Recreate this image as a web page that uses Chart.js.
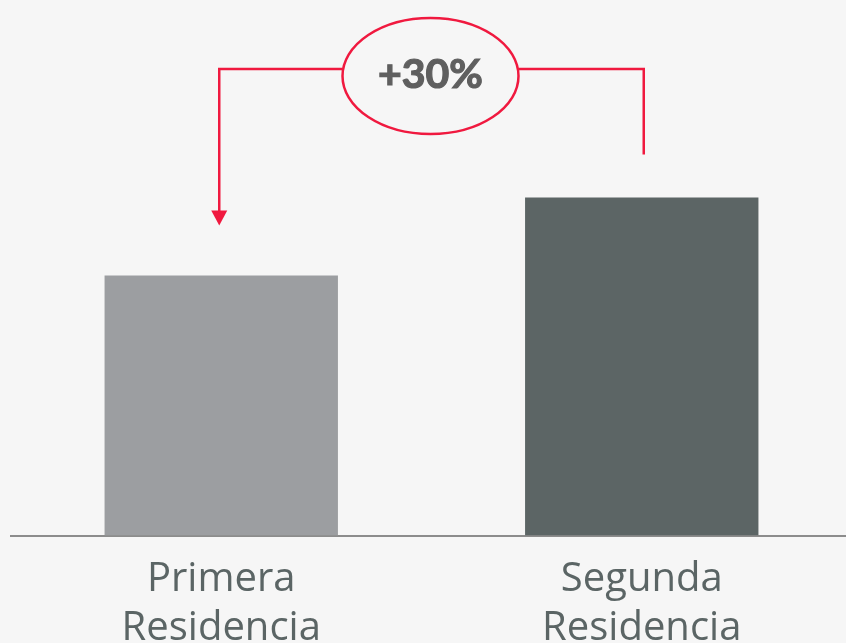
<!DOCTYPE html>
<html>
<head>
<meta charset="utf-8">
<script src="https://cdn.jsdelivr.net/npm/chart.js@4.4.0/dist/chart.umd.min.js"></script>
<style>
    html, body { margin: 0; padding: 0; background: #f6f6f6; overflow: hidden; }
    #wrap { position: absolute; left: 0; top: 0; width: 852px; height: 664px; }
</style>
</head>
<body>
<div id="wrap"><canvas id="chart"></canvas></div>
<script>
let categories = [["Primera", "Residencia"], ["Segunda", "Residencia"]];
let values = [100, 130];
let barColors = ["#9c9ea1", "#5c6565"];
let changeLabel = "+30%";

// red connector with the ellipse showing the change between the two bars
let changePlugin = {
    id: "change",
    beforeDraw: function(chart) {
        let ctx = chart.ctx;
        ctx.save();
        ctx.fillStyle = "#f6f6f6";
        ctx.fillRect(0, 0, chart.width, chart.height);
        ctx.restore();
    },
    afterDraw: function(chart) {
        let ctx = chart.ctx;
        let bars = chart.getDatasetMeta(0).data;
        let b0 = bars[0], b1 = bars[1];
        let topY = 69;
        let x0 = b0.x - 2;
        let x1 = b1.x + 2;
        let cx = (b0.x + b1.x) / 2 - 1;
        let cy = 76;
        let rx = 88, ry = 58;

        ctx.save();
        ctx.strokeStyle = "#f0193f";
        ctx.fillStyle = "#f0193f";
        ctx.lineWidth = 2.5;

        ctx.beginPath();
        ctx.moveTo(x0, b0.y - 62);
        ctx.lineTo(x0, topY);
        ctx.lineTo(cx - rx, topY);
        ctx.stroke();

        ctx.beginPath();
        ctx.moveTo(cx + rx, topY);
        ctx.lineTo(x1, topY);
        ctx.lineTo(x1, b1.y - 43);
        ctx.stroke();

        // arrow head
        ctx.beginPath();
        ctx.moveTo(x0 - 8, b0.y - 65);
        ctx.lineTo(x0 + 8, b0.y - 65);
        ctx.lineTo(x0, b0.y - 50);
        ctx.closePath();
        ctx.fill();

        ctx.beginPath();
        ctx.ellipse(cx, cy, rx, ry, 0, 0, Math.PI * 2);
        ctx.stroke();

        ctx.fillStyle = "#5f5f5f";
        ctx.strokeStyle = "#5f5f5f";
        ctx.lineWidth = 1.2;
        ctx.font = "bold 41px Lato";
        ctx.textAlign = "center";
        ctx.textBaseline = "middle";
        ctx.fillText(changeLabel, cx, cy - 1);
        ctx.strokeText(changeLabel, cx, cy - 1);
        ctx.restore();
    }
};

window.onload = function() {
    let ctx = document.getElementById("chart").getContext("2d");
    new Chart(ctx, {
        type: "bar",
        data: {
            labels: categories,
            datasets: [{
                data: values,
                backgroundColor: barColors,
                borderWidth: 0,
                barPercentage: 0.555,
                categoryPercentage: 1
            }]
        },
        options: {
            responsive: true,
            maintainAspectRatio: false,
            animation: false,
            layout: { padding: { left: 11, right: 0, top: 0, bottom: 0 } },
            plugins: {
                legend: { display: false },
                tooltip: { enabled: false }
            },
            scales: {
                x: {
                    grid: { display: false },
                    border: { display: true, color: "#8c8c8c", width: 2 },
                    ticks: {
                        color: "#5b6565",
                        font: { family: "Open Sans", size: 40, lineHeight: 1.23 },
                        padding: 11,
                        maxRotation: 0
                    }
                },
                y: {
                    display: false,
                    min: 0,
                    max: 206
                }
            }
        },
        plugins: [changePlugin]
    });
};
</script>
</body>
</html>
